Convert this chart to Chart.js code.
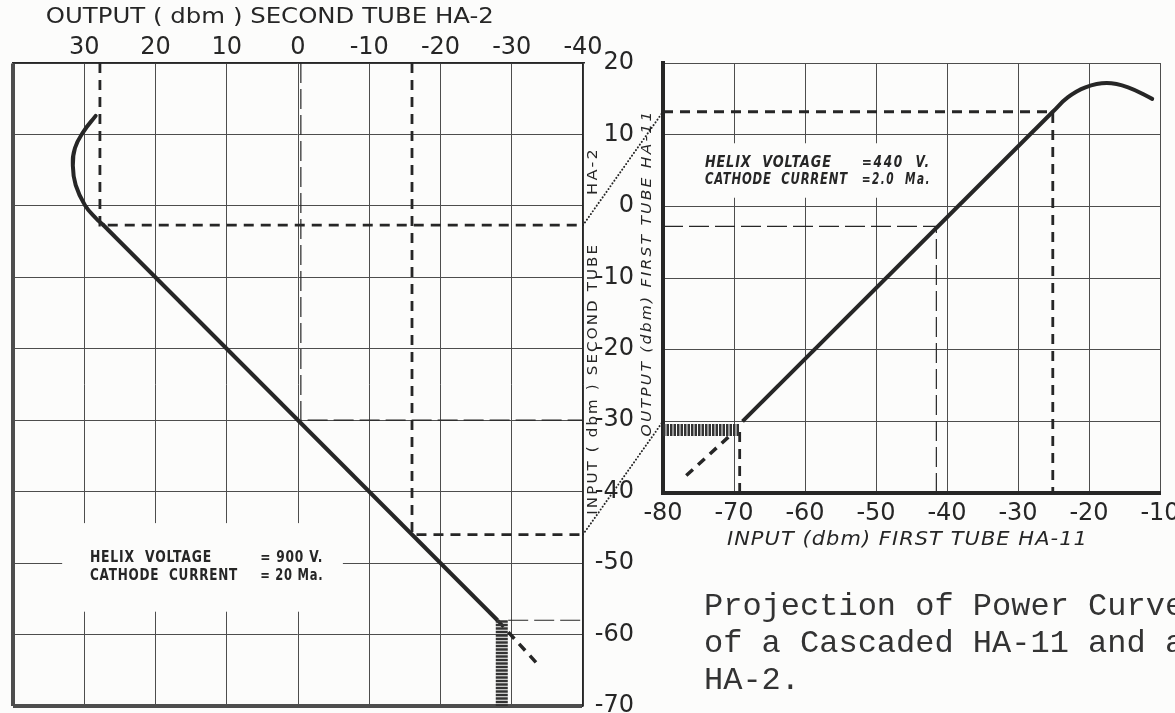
<!DOCTYPE html>
<html lang="en">
<head>
<meta charset="UTF-8">
<title>Projection of Power Curve - HA-11 / HA-2</title>
<script src="https://cdn.jsdelivr.net/npm/chart.js@4.4.1/dist/chart.umd.min.js"></script>
<style>
    html, body { margin: 0; padding: 0; background: #fcfcfb; }
    #wrap { position: relative; width: 1175px; height: 713px; overflow: hidden; }
    #wrap canvas { position: absolute; left: 0; top: 0; }
    #caption {
        position: absolute; left: 704px; top: 588px;
        font: 32px/37px "Liberation Mono", "Courier New", monospace;
        color: #333; white-space: pre;
    }
</style>
</head>
<body>
<div id="wrap">
    <canvas id="second" width="1175" height="713"></canvas>
    <canvas id="first" width="1175" height="713"></canvas>
    <div id="caption">Projection of Power Curve
of a Cascaded HA-11 and a
HA-2.</div>
</div>

<script>
// ---- second tube HA-2 (left chart): x = output dbm (reversed), y = input dbm
const ha2OutTicks  = [40, 30, 20, 10, 0, -10, -20, -30, -40];
const ha2OutLabels = ['', '30', '20', '10', '0', '-10', '-20', '-30', '-40'];
const ha2InTicks   = [20, 10, 0, -10, -20, -30, -40, -50, -60, -70];

const ha2KneeOut  = [28.4, 30.1, 31.3, 31.6, 31.2, 29.9, 28.3, 27.4];
const ha2KneeIn   = [12.6, 10.4, 8.1, 5.6, 2.9, 0.1, -1.8, -2.6];
const ha2LinOut   = [27.4, -28.0];
const ha2LinIn    = [-2.6, -58.0];
const ha2ExtOut   = [-28.0, -33.5];
const ha2ExtIn    = [-58.0, -64.0];
const ha2NoiseOut = [-28.6, -28.6];
const ha2NoiseIn  = [-58.0, -70.0];

// projection guides on HA-2
const ha2GuideAOut = [27.8, 27.8, -40];
const ha2GuideAIn  = [20, -2.7, -2.7];
const ha2GuideBOut = [-16, -16, -40];
const ha2GuideBIn  = [20, -46, -46];
const ha2GuideCOut = [-0.4, -0.4, -40];
const ha2GuideCIn  = [20, -30, -30];
const ha2GuideDOut = [-29.5, -40];
const ha2GuideDIn  = [-58, -58];

// ---- first tube HA-11 (right chart): x = input dbm, y = output dbm
const ha11InTicks  = [-80, -70, -60, -50, -40, -30, -20, -10];
const ha11OutTicks = [20, 10, 0, -10, -20, -30, -40];

const ha11LinIn    = [-68.8, -25.1];
const ha11LinOut   = [-30.0, 13.2];
const ha11SatIn    = [-25.1, -23.0, -20.5, -17.5, -14.5, -11.1];
const ha11SatOut   = [13.2, 15.2, 16.6, 17.2, 16.6, 15.0];
const ha11ExtIn    = [-70.8, -77.2];
const ha11ExtOut   = [-32.2, -38.0];
const ha11NoiseIn  = [-80, -69.2];
const ha11NoiseOut = [-31.2, -31.2];

const ha11GuideAIn  = [-80, -25.1, -25.1];
const ha11GuideAOut = [13.2, 13.2, -40];
const ha11GuideBIn  = [-80, -41.5, -41.5];
const ha11GuideBOut = [-2.8, -2.8, -40];
const ha11GuideCIn  = [-69.2, -69.2];
const ha11GuideCOut = [-31.5, -40];

// dotted projection: HA-2 input level -> HA-11 output level
const linkHa2In   = [-2.7, -46];
const linkHa11Out = [13.2, -30];

const INK = '#262626';
const GRID = '#4d4d4d';
const PAPER = '#fcfcfb';
const SANS = '"DejaVu Sans", "Liberation Sans", sans-serif';

function pts(xs, ys) {
    return xs.map((v, i) => ({ x: v, y: ys[i] }));
}

function series(xs, ys, width, dash, more) {
    return Object.assign({
        data: pts(xs, ys),
        showLine: true,
        pointRadius: 0,
        pointHoverRadius: 0,
        borderColor: INK,
        borderWidth: width,
        borderDash: dash || [],
        borderCapStyle: 'butt',
        tension: 0,
        fill: false
    }, more || {});
}

// axis sizes are fixed so both plots share the same grid pitch
function fixSize(w, h) {
    return s => {
        if (w) s.width = w;
        if (h) s.height = h;
        s.paddingTop = s.paddingBottom = s.paddingLeft = s.paddingRight = 0;
    };
}

// text squeezed/stretched to a given width (lettering on the old drawing)
function fitText(ctx, text, x, y, width, font, spacing) {
    ctx.save();
    ctx.font = font;
    ctx.letterSpacing = (spacing || 0) + 'px';
    const w = ctx.measureText(text).width;
    ctx.translate(x, y);
    ctx.scale(width / w, 1);
    ctx.textAlign = 'left';
    ctx.fillText(text, 0, 0);
    ctx.restore();
}

function vText(ctx, text, cx, cy, len, font, spacing) {
    ctx.save();
    ctx.translate(cx, cy);
    ctx.rotate(-Math.PI / 2);
    ctx.textBaseline = 'middle';
    fitText(ctx, text, -len / 2, 0, len, font, spacing);
    ctx.restore();
}

const ha2Notes = {
    id: 'ha2Notes',
    beforeDatasetsDraw(chart) {
        const { ctx, scales: { x, y } } = chart;
        const x0 = x.getPixelForValue(33.1), x1 = x.getPixelForValue(-6.3);
        const y0 = y.getPixelForValue(-44.4), y1 = y.getPixelForValue(-56.8);
        ctx.save();
        ctx.fillStyle = PAPER;
        ctx.fillRect(x0, y0, x1 - x0, y1 - y0);
        ctx.fillStyle = INK;
        ctx.textBaseline = 'alphabetic';
        const f = 'bold 16px ' + SANS;
        fitText(ctx, 'HELIX  VOLTAGE', x.getPixelForValue(29.2), y.getPixelForValue(-49.8), 122, f, 1);
        fitText(ctx, '= 900 V.', x.getPixelForValue(5.3), y.getPixelForValue(-49.8), 63, f, 1);
        fitText(ctx, 'CATHODE  CURRENT', x.getPixelForValue(29.2), y.getPixelForValue(-52.4), 148, f, 1);
        fitText(ctx, '= 20 Ma.', x.getPixelForValue(5.3), y.getPixelForValue(-52.4), 63, f, 1);
        ctx.restore();
    },
    afterDraw(chart) {
        const { ctx, chartArea: a, scales: { x, y } } = chart;
        ctx.save();
        ctx.fillStyle = INK;
        ctx.textBaseline = 'middle';
        fitText(ctx, 'OUTPUT ( dbm ) SECOND TUBE HA-2', x.getPixelForValue(35.4), a.top - 46, 448, '22px ' + SANS, 0);
        vText(ctx, 'INPUT ( dbm ) SECOND TUBE', a.right + 10, y.getPixelForValue(-24.2), 272, '14px ' + SANS, 2);
        vText(ctx, 'HA-2', a.right + 10, y.getPixelForValue(4.9), 48, '14px ' + SANS, 2);
        ctx.restore();
    }
};

const leftChart = new Chart(document.getElementById('second'), {
    type: 'scatter',
    data: {
        datasets: [
            series(ha2KneeOut, ha2KneeIn, 4, null, { tension: 0.45, borderCapStyle: 'round' }),
            series(ha2LinOut, ha2LinIn, 4),
            series(ha2NoiseOut, ha2NoiseIn, 12, [2.5, 1], { borderColor: '#333' }),
            series(ha2ExtOut, ha2ExtIn, 3.5, [9, 7]),
            series(ha2GuideAOut, ha2GuideAIn, 2.8, [10, 7]),
            series(ha2GuideBOut, ha2GuideBIn, 2.8, [10, 7]),
            series(ha2GuideCOut, ha2GuideCIn, 1.2, [20, 6]),
            series(ha2GuideDOut, ha2GuideDIn, 1.2, [20, 6])
        ]
    },
    options: {
        responsive: false,
        animation: false,
        devicePixelRatio: 1,
        events: [],
        layout: { padding: { left: 13, right: 541, top: 0, bottom: 7 } },
        plugins: { legend: { display: false }, tooltip: { enabled: false } },
        scales: {
            x: {
                type: 'linear', position: 'top', reverse: true, min: -40, max: 40,
                afterBuildTicks: s => { s.ticks = ha2OutTicks.map(v => ({ value: v })); },
                afterFit: fixSize(0, 63),
                ticks: {
                    padding: 1, color: INK, maxRotation: 0, autoSkip: false,
                    font: { family: SANS, size: 24 },
                    callback: (v, i) => ha2OutLabels[i]
                },
                grid: {
                    color: GRID, drawTicks: false,
                    lineWidth: c => (c.tick && c.tick.value === 40 ? 4 : 1)
                },
                border: { display: true, color: INK, width: 1.5 }
            },
            y: {
                type: 'linear', position: 'right', min: -70, max: 20,
                afterBuildTicks: s => { s.ticks = ha2InTicks.map(v => ({ value: v })); },
                afterFit: fixSize(51, 0),
                ticks: {
                    padding: 4, crossAlign: 'far', color: INK, autoSkip: false,
                    font: { family: SANS, size: 24 },
                    callback: v => String(v)
                },
                grid: {
                    color: GRID, drawTicks: false,
                    lineWidth: c => (c.tick && c.tick.value === -70 ? 4 : 1)
                },
                border: { display: true, color: INK, width: 1.5 }
            }
        }
    },
    plugins: [ha2Notes]
});

const ha11Notes = {
    id: 'ha11Notes',
    beforeDatasetsDraw(chart) {
        const { ctx, scales: { x, y } } = chart;
        const x0 = x.getPixelForValue(-75.5), x1 = x.getPixelForValue(-41.3);
        const y0 = y.getPixelForValue(8.8), y1 = y.getPixelForValue(1.2);
        ctx.save();
        ctx.fillStyle = PAPER;
        ctx.fillRect(x0, y0, x1 - x0, y1 - y0);
        ctx.fillStyle = INK;
        ctx.textBaseline = 'alphabetic';
        const f = 'italic bold 15px ' + SANS;
        fitText(ctx, 'HELIX  VOLTAGE', x.getPixelForValue(-74.1), y.getPixelForValue(5.5), 127, f, 1);
        fitText(ctx, '=440  V.', x.getPixelForValue(-52), y.getPixelForValue(5.5), 69, f, 2);
        fitText(ctx, 'CATHODE  CURRENT', x.getPixelForValue(-74.1), y.getPixelForValue(3.1), 143, f, 1);
        fitText(ctx, '=2.0  Ma.', x.getPixelForValue(-52), y.getPixelForValue(3.1), 69, f, 2);
        ctx.restore();
    },
    afterDraw(chart) {
        const { ctx, chartArea: a, scales: { x, y } } = chart;
        const L = leftChart.scales;
        ctx.save();
        ctx.strokeStyle = INK;
        ctx.lineWidth = 2;
        ctx.lineCap = 'round';
        ctx.setLineDash([0.1, 3.3]);
        linkHa2In.forEach((v, i) => {
            ctx.beginPath();
            ctx.moveTo(L.x.getPixelForValue(-40), L.y.getPixelForValue(v));
            ctx.lineTo(x.getPixelForValue(-80), y.getPixelForValue(linkHa11Out[i]));
            ctx.stroke();
        });
        ctx.setLineDash([]);
        ctx.fillStyle = INK;
        ctx.textBaseline = 'middle';
        fitText(ctx, 'INPUT (dbm) FIRST TUBE HA-11', x.getPixelForValue(-71), a.bottom + 47, 361, 'italic 20px ' + SANS, 1);
        vText(ctx, 'OUTPUT (dbm) FIRST TUBE HA-11', a.left - 16, y.getPixelForValue(-9.3), 327, 'italic 14px ' + SANS, 2);
        ctx.restore();
    }
};

const rightChart = new Chart(document.getElementById('first'), {
    type: 'scatter',
    data: {
        datasets: [
            series(ha11LinIn, ha11LinOut, 4),
            series(ha11SatIn, ha11SatOut, 4, null, { tension: 0.4, borderCapStyle: 'round' }),
            series(ha11NoiseIn, ha11NoiseOut, 12, [2.5, 1], { borderColor: '#333' }),
            series(ha11ExtIn, ha11ExtOut, 3.5, [9, 7]),
            series(ha11GuideAIn, ha11GuideAOut, 2.8, [10, 7]),
            series(ha11GuideBIn, ha11GuideBOut, 1.2, [20, 6]),
            series(ha11GuideCIn, ha11GuideCOut, 2.8, [10, 7])
        ]
    },
    options: {
        responsive: false,
        animation: false,
        devicePixelRatio: 1,
        events: [],
        layout: { padding: { left: 643, right: 15, top: 63, bottom: 180 } },
        plugins: { legend: { display: false }, tooltip: { enabled: false } },
        scales: {
            x: {
                type: 'linear', position: 'bottom', min: -80, max: -10,
                afterBuildTicks: s => { s.ticks = ha11InTicks.map(v => ({ value: v })); },
                afterFit: fixSize(0, 40),
                ticks: {
                    padding: 6, color: INK, maxRotation: 0, autoSkip: false,
                    font: { family: SANS, size: 24 },
                    callback: v => String(v)
                },
                grid: { color: GRID, drawTicks: false, lineWidth: 1 },
                border: { display: true, color: INK, width: 4 }
            },
            y: {
                type: 'linear', position: 'left', min: -40, max: 20,
                afterBuildTicks: s => { s.ticks = ha11OutTicks.map(v => ({ value: v })); },
                afterFit: fixSize(20, 0),
                ticks: { display: false },
                grid: { color: GRID, drawTicks: false, lineWidth: 1 },
                border: { display: true, color: INK, width: 4 }
            }
        }
    },
    plugins: [ha11Notes]
});
</script>
</body>
</html>
